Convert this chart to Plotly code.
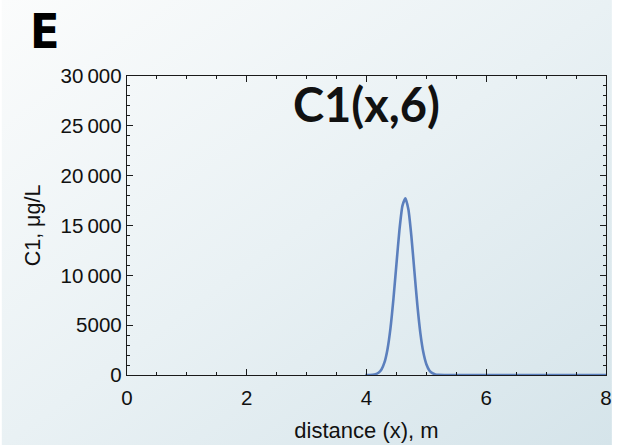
import base64
import plotly.graph_objects as go

# Concentration profile C1(x, t=6) along the column
distance_m = [3.98, 4.05, 4.10, 4.15, 4.20, 4.25, 4.30, 4.35, 4.40, 4.45, 4.50,
              4.55, 4.60, 4.65, 4.70, 4.75, 4.80, 4.85, 4.90, 4.95, 5.00, 5.05,
              5.10, 5.15, 5.20, 5.30, 6.00, 7.00, 8.00]
c1_ug_per_l = [0, 7, 24, 77, 220, 550, 1260, 2570, 4680, 7630, 11130,
               14530, 16970, 17740, 16600, 13890, 10410, 6980, 4180, 2250, 1080, 460,
               180, 60, 20, 0, 0, 0, 0]

x_tick_vals = [0, 2, 4, 6, 8]
x_tick_text = ["0", "2", "4", "6", "8"]
y_tick_vals = [0, 5000, 10000, 15000, 20000, 25000, 30000]
y_tick_text = ["0", "5000", "10\u2009000", "15\u2009000", "20\u2009000",
               "25\u2009000", "30\u2009000"]

W, H = 618, 445
L, R, T, B = 127, 6, 76, 70
PW, PH = W - L - R, H - T - B

# soft diagonal backdrop
svg = f'''<svg xmlns="http://www.w3.org/2000/svg" width="{W}" height="{H}">
<defs><linearGradient id="g" x1="0" y1="0" x2="1" y2="1">
<stop offset="0" stop-color="#fbfcfc"/><stop offset="0.5" stop-color="#e9f1f4"/>
<stop offset="1" stop-color="#d5e4ea"/></linearGradient></defs>
<rect width="{W}" height="{H}" fill="url(#g)"/></svg>'''
bg_src = "data:image/svg+xml;base64," + base64.b64encode(svg.encode()).decode()

fig = go.Figure()
fig.add_trace(go.Scatter(
    x=distance_m, y=c1_ug_per_l, mode="lines",
    line=dict(color="#5b7fbd", width=2.6, shape="spline", smoothing=0.5),
    cliponaxis=False, hoverinfo="skip", showlegend=False,
))

SANS = "Liberation Sans, Arial, sans-serif"
tick_font = dict(family=SANS, size=20.5, color="#111")
axis_common = dict(
    showgrid=False, zeroline=False, showline=True, linecolor="#1a1a1a",
    linewidth=1.4, mirror="allticks", ticks="inside", tickcolor="#1a1a1a",
    tickwidth=1.2, ticklen=6, tickfont=tick_font,
)

fig.update_xaxes(
    range=[0, 8], tickmode="array", tickvals=x_tick_vals, ticktext=x_tick_text,
    ticklabelstandoff=4,
    minor=dict(dtick=0.5, ticks="inside", ticklen=3, tickcolor="#1a1a1a", tickwidth=1),
    title=dict(text="distance (x), m", standoff=14,
               font=dict(family=SANS, size=22, color="#111")),
    **axis_common,
)
fig.update_yaxes(
    range=[0, 30000], tickmode="array", tickvals=y_tick_vals, ticktext=y_tick_text,
    minor=dict(dtick=1000, ticks="inside", ticklen=3, tickcolor="#1a1a1a", tickwidth=1),
    title=dict(text="C1, μg/L", standoff=14,
               font=dict(family=SANS, size=21.5, color="#111")),
    **axis_common,
)

fig.add_annotation(
    text="<b>C1(x,6)</b>", xref="paper", yref="paper", x=0.5, y=0.908,
    xanchor="center", yanchor="middle", showarrow=False,
    font=dict(family="Lato, Liberation Sans, Arial, sans-serif", size=47, color="#111"),
)
fig.add_annotation(
    text="<b>E</b>", xref="paper", yref="paper",
    x=-(L - 44) / PW, y=1 + (T - 31) / PH,
    xanchor="center", yanchor="middle", showarrow=False,
    font=dict(family="Liberation Sans Narrow, DejaVu Sans Condensed, Arial, sans-serif",
              size=48, color="#000"),
)

fig.update_layout(
    width=W, height=H, margin=dict(l=L, r=R, t=T, b=B, pad=0),
    paper_bgcolor="rgba(0,0,0,0)", plot_bgcolor="rgba(0,0,0,0)",
    images=[dict(source=bg_src, xref="paper", yref="paper",
                 x=-L / PW, y=1 + T / PH, sizex=W / PW, sizey=H / PH,
                 xanchor="left", yanchor="top", sizing="stretch", layer="below")],
)

fig.write_html("out.html")
